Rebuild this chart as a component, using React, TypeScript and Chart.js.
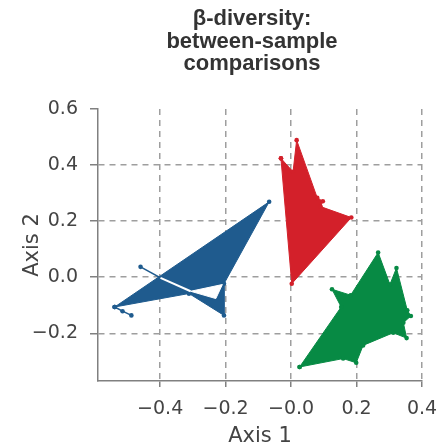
import React, { useEffect, useRef } from "react";
import { Chart, registerables } from "chart.js";

Chart.register(...registerables);

// Axis ticks
const xTicks = [-0.4, -0.2, 0.0, 0.2, 0.4];
const xTickLabels = ["−0.4", "−0.2", "−0.0", "0.2", "0.4"];
const yTicks = [-0.2, 0.0, 0.2, 0.4, 0.6];
const yTickLabels = ["−0.2", "0.0", "0.2", "0.4", "0.6"];

// Group 1 (blue) — ordination points forming the outline
const blueTail = [
  [-0.46, 0.037],
  [-0.312, -0.058],
];
const blueLeftDots = [
  [-0.539, -0.106],
  [-0.515, -0.121],
  [-0.488, -0.136],
];
const bluePolygon = [
  [-0.539, -0.106],
  [-0.067, 0.269],
  [-0.205, -0.023],
  [-0.205, -0.136],
  [-0.312, -0.058],
  [-0.539, -0.106],
];
const blueGap = [
  [-0.307, -0.05],
  [-0.21, -0.026],
  [-0.23, -0.076],
  [-0.307, -0.05],
];
const blueGapLine = [
  [-0.399, -0.002],
  [-0.307, -0.05],
];

// Group 2 (red)
const redPolygon = [
  [-0.031, 0.424],
  [0.006, 0.376],
  [0.017, 0.489],
  [0.08, 0.283],
  [0.097, 0.271],
  [0.09, 0.252],
  [0.184, 0.213],
  [0.002, -0.023],
  [-0.031, 0.424],
];

// Group 3 (green)
const greenPolygon = [
  [0.026, -0.32],
  [0.153, -0.106],
  [0.125, -0.043],
  [0.182, -0.064],
  [0.266, 0.088],
  [0.302, -0.026],
  [0.322, 0.033],
  [0.355, -0.118],
  [0.366, -0.138],
  [0.343, -0.162],
  [0.353, -0.217],
  [0.312, -0.198],
  [0.22, -0.243],
  [0.199, -0.305],
  [0.159, -0.29],
  [0.026, -0.32],
];

const BLUE = "#1f5b8e";
const RED = "#d3202a";
const GREEN = "#078a44";
const WHITE = "#ffffff";

const toPts = (a: number[][]) => a.map(([x, y]) => ({ x, y }));

const TICK_FONT = { family: "'DejaVu Sans', sans-serif", size: 19 };
const TITLE_FONT = { family: "'DejaVu Sans', sans-serif", size: 21, lineHeight: 1 };

function series(
  data: number[][],
  color: string,
  order: number,
  fillShape: boolean,
  width: number,
  radius: number
) {
  return {
    data: toPts(data),
    borderColor: color,
    backgroundColor: color,
    pointBackgroundColor: color,
    pointBorderColor: color,
    pointBorderWidth: 0,
    pointRadius: radius,
    pointHoverRadius: radius,
    borderWidth: width,
    tension: 0,
    fill: fillShape ? "shape" : false,
    order,
  };
}

const labelFor = (ticks: number[], labels: string[]) => (v: any) => {
  const i = ticks.findIndex((t) => Math.abs(t - Number(v)) < 1e-9);
  return i >= 0 ? labels[i] : "";
};

export default function App() {
  const ref = useRef<HTMLCanvasElement | null>(null);

  useEffect(() => {
    if (!ref.current) return;
    const chart = new Chart(ref.current, {
      type: "line",
      data: {
        datasets: [
          series(blueTail, BLUE, 6, false, 1.5, 2.3),
          series(blueLeftDots, BLUE, 6, false, 1.5, 2.3),
          series(bluePolygon, BLUE, 5, true, 1, 2.3),
          series(blueGap, WHITE, 4, true, 1, 0),
          series(blueGapLine, WHITE, 4, false, 2, 0),
          series(redPolygon, RED, 5, true, 1, 2.3),
          series(greenPolygon, GREEN, 5, true, 1, 2.3),
        ] as any,
      },
      options: {
        animation: false,
        responsive: false,
        maintainAspectRatio: false,
        layout: { padding: { top: 109, right: 16, bottom: 0, left: 0 } },
        plugins: {
          legend: { display: false },
          tooltip: { enabled: false },
          title: { display: false },
        },
        scales: {
          x: {
            type: "linear",
            min: -0.59,
            max: 0.4,
            afterBuildTicks: (s: any) => {
              s.ticks = xTicks.map((v) => ({ value: v }));
            },
            afterFit: (s: any) => {
              s.height = 66;
              s.paddingRight = 0;
              s.paddingLeft = 0;
            },
            ticks: {
              callback: labelFor(xTicks, xTickLabels),
              color: "#444",
              font: TICK_FONT,
              padding: 11,
              maxRotation: 0,
              autoSkip: false,
            },
            grid: {
              color: "#9e9e9e",
              lineWidth: 1.5,
              tickLength: 6,
              tickColor: "#808080",
              tickWidth: 1.5,
            },
            border: { display: true, color: "#808080", width: 1.5, dash: [6, 5] },
            title: {
              display: true,
              text: "Axis 1",
              color: "#444",
              font: TITLE_FONT,
              padding: { top: 0, bottom: 0 },
            },
          },
          y: {
            type: "linear",
            min: -0.37,
            max: 0.6,
            afterBuildTicks: (s: any) => {
              s.ticks = yTicks.map((v) => ({ value: v }));
            },
            afterFit: (s: any) => {
              s.width = 98;
            },
            ticks: {
              callback: labelFor(yTicks, yTickLabels),
              color: "#444",
              font: TICK_FONT,
              padding: 12,
              autoSkip: false,
            },
            grid: {
              color: (ctx: any) =>
                ctx.tick && Math.abs(ctx.tick.value - 0.6) < 1e-9 ? "rgba(0,0,0,0)" : "#9e9e9e",
              lineWidth: 1.5,
              tickLength: 8,
              tickColor: "#808080",
              tickWidth: 1.5,
            },
            border: { display: true, color: "#808080", width: 1.5, dash: [6, 5] },
            title: {
              display: true,
              text: "Axis 2",
              color: "#444",
              font: TITLE_FONT,
              padding: { top: 22, bottom: 0 },
            },
          },
        },
      } as any,
    });
    return () => chart.destroy();
  }, []);

  return (
    <div
      style={{
        position: "absolute",
        left: 0,
        top: 0,
        width: 438,
        height: 447,
        background: "#fff",
        overflow: "hidden",
      }}
    >
      <canvas
        ref={ref}
        width={438}
        height={447}
        style={{ position: "absolute", left: 0, top: 0, display: "block" }}
      />
      <div
        style={{
          position: "absolute",
          left: 132,
          width: 240,
          top: 7,
          textAlign: "center",
          fontFamily: "'Liberation Sans', Arial, sans-serif",
          fontWeight: "bold",
          fontSize: 22,
          lineHeight: "22.7px",
          color: "#333",
        }}
      >
        β-diversity:
        <br />
        between-sample
        <br />
        comparisons
      </div>
    </div>
  );
}
